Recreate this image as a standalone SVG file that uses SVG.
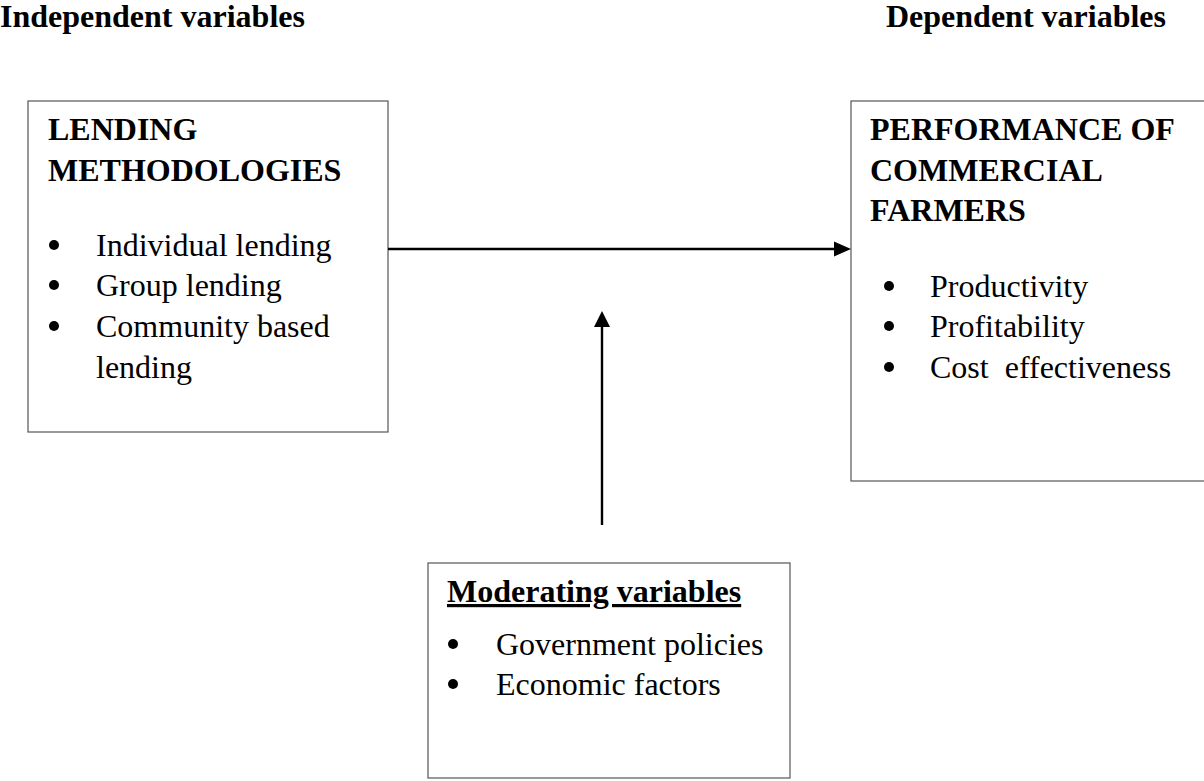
<svg xmlns="http://www.w3.org/2000/svg" width="1204" height="781" viewBox="0 0 1204 781">
<style>
text{font-family:"Liberation Serif","Times New Roman",serif;font-size:32px;fill:#000}
.b{font-weight:bold}
.bul{fill:#000}
.box{fill:#fff;stroke:#555;stroke-width:1.2}
.conn{stroke:#000;stroke-width:2.4;fill:none}
.head{fill:#000}
</style>
<rect width="1204" height="781" fill="#fff"/>
<g id="headers">
<text class="b" x="0" y="27">Independent variables</text>
<text class="b" x="886" y="27">Dependent variables</text>
</g>
<g id="lending">
<rect class="box" x="28" y="101" width="360" height="331"/>
<text class="b" x="48" y="140">LENDING</text>
<text class="b" x="48" y="181">METHODOLOGIES</text>
<circle class="bul" cx="54" cy="245" r="5"/><text x="96" y="256">Individual lending</text>
<circle class="bul" cx="54" cy="285" r="5"/><text x="96" y="296">Group lending</text>
<circle class="bul" cx="54" cy="326" r="5"/><text x="96" y="337">Community based</text>
<text x="96" y="378">lending</text>
</g>
<g id="performance">
<rect class="box" x="851" y="101" width="360" height="380"/>
<text class="b" x="870" y="140">PERFORMANCE OF</text>
<text class="b" x="870" y="181">COMMERCIAL</text>
<text class="b" x="870" y="221">FARMERS</text>
<circle class="bul" cx="889" cy="286" r="5"/><text x="930" y="297">Productivity</text>
<circle class="bul" cx="889" cy="326" r="5"/><text x="930" y="337">Profitability</text>
<circle class="bul" cx="889" cy="367" r="5"/><text x="930" y="378" xml:space="preserve">Cost  effectiveness</text>
</g>
<g id="moderating">
<rect class="box" x="428" y="563" width="362" height="215"/>
<text class="b" x="447" y="602" text-decoration="underline">Moderating variables</text>
<circle class="bul" cx="453" cy="644" r="5"/><text x="496" y="655">Government policies</text>
<circle class="bul" cx="453" cy="684" r="5"/><text x="496" y="695">Economic factors</text>
</g>
<g id="connectors">
<line class="conn" x1="388" y1="249" x2="836" y2="249"/>
<polygon class="head" points="834,241.5 851,249 834,256.5"/>
<line class="conn" x1="602" y1="525" x2="602" y2="325"/>
<polygon class="head" points="594,327 602,311 610,327"/>
</g>
</svg>
